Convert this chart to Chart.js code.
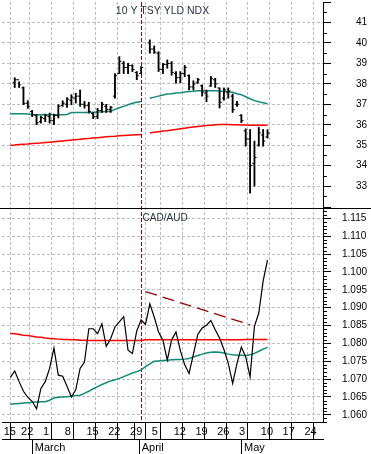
<!DOCTYPE html>
<html>
<head>
<meta charset="utf-8">
<title>10 Y TSY YLD NDX vs CAD/AUD</title>
<script src="https://cdn.jsdelivr.net/npm/chart.js@4.4.0/dist/chart.umd.min.js"></script>
<style>
  html, body { margin: 0; padding: 0; background: #fff; }
  canvas { display: block; }
</style>
</head>
<body>
<canvas id="chart" width="371" height="454"></canvas>
<script>
// trading-day index, 0 = Mon Feb 22 2010 (Apr 2 = Good Friday, no yield bar)
const tradeDays = [-2, -1, 0, 1, 2, 3, 4, 5, 6, 7, 8, 9, 10, 11, 12, 13, 14, 15, 16, 17, 18, 19,
  20, 21, 22, 23, 24, 25, 26, 27, 28, 29, 30, 31, 32, 33, 34, 35, 36, 37, 38, 39,
  40, 41, 42, 43, 44, 45, 46, 47, 48, 49, 50, 51, 52, 53, 54, 55, 56, 57];

// 10 Y TSY YLD NDX (OHLC)
const tsyHigh = [null, 38.30, 38.10, 37.85, 37.18, 36.70, 36.50, 36.42, 36.52, 36.57, 36.52, 36.98,
  37.17, 37.33, 37.47, 37.54, 37.70, 37.14, 37.10, 36.60, 36.80, 37.10, 37.00, 36.90,
  38.50, 39.33, 39.09, 39.00, 38.93, 38.60, 38.84, null, 40.15, 39.85, 39.57, 39.00,
  39.17, 39.09, 38.60, 38.60, 38.90, 38.44, 38.15, 38.27, 37.95, 37.70, 38.36, 38.27,
  37.80, 37.80, 37.80, 37.50, 37.14, 36.50, 35.80, 35.77, 35.20, 35.87, 35.77, 35.76];
const tsyLow = [null, 37.82, 37.82, 36.98, 36.80, 36.40, 36.00, 36.08, 36.15, 36.08, 36.00, 36.33,
  36.90, 36.85, 36.98, 37.06, 36.90, 36.81, 36.57, 36.30, 36.30, 36.60, 36.60, 36.60,
  37.30, 38.50, 38.50, 38.50, 38.60, 38.20, 38.50, null, 39.50, 39.49, 38.60, 38.50,
  38.76, 38.42, 38.03, 38.05, 38.35, 37.70, 37.70, 38.03, 37.40, 37.13, 37.87, 37.82,
  36.82, 37.20, 37.30, 36.60, 36.90, 36.10, 34.95, 32.66, 33.00, 34.95, 34.95, 35.35];
const tsyOpen = [null, 38.05, 38.20, 37.80, 37.05, 36.65, 36.45, 36.15, 36.30, 36.40, 36.20, 36.45,
  36.95, 37.00, 37.20, 37.30, 37.40, 37.00, 36.95, 36.55, 36.40, 36.70, 36.90, 36.75,
  37.40, 38.50, 39.00, 38.80, 38.90, 38.55, 38.50, null, 40.00, 39.70, 39.50, 38.70,
  38.95, 39.00, 38.50, 38.30, 38.50, 38.40, 37.85, 38.05, 37.90, 37.55, 37.90, 38.20,
  37.80, 37.30, 37.60, 37.40, 37.00, 36.45, 35.70, 35.30, 34.10, 35.00, 35.50, 35.40];
const tsyClose = [null, 38.20, 37.95, 37.05, 36.90, 36.50, 36.10, 36.35, 36.45, 36.20, 36.45, 36.90,
  37.05, 37.25, 37.35, 37.40, 37.00, 36.95, 36.65, 36.40, 36.70, 37.00, 36.75, 36.85,
  38.40, 39.10, 38.80, 38.90, 38.70, 38.40, 38.80, null, 39.70, 39.55, 38.70, 38.95,
  39.00, 38.55, 38.30, 38.50, 38.80, 37.85, 38.00, 38.20, 37.60, 37.40, 38.25, 38.00,
  37.10, 37.70, 37.65, 36.75, 37.00, 36.20, 35.30, 34.00, 34.40, 35.60, 35.20, 35.60];
const tsyAvgShort = [36.54, 36.54, 36.54, 36.54, 36.53, 36.49, 36.49, 36.49, 36.49, 36.49, 36.49, 36.49,
  36.49, 36.50, 36.60, 36.60, 36.60, 36.60, 36.60, 36.61, 36.62, 36.63, 36.65, 36.66,
  36.75, 36.83, 36.90, 36.98, 37.05, 37.10, 37.14, null, 37.30, 37.35, 37.40, 37.45,
  37.50, 37.52, 37.55, 37.57, 37.60, 37.63, 37.64, 37.66, 37.66, 37.66, 37.66, 37.66,
  37.65, 37.63, 37.61, 37.59, 37.52, 37.47, 37.37, 37.27, 37.18, 37.12, 37.07, 37.03];
const tsyAvgLong = [35.00, 35.01, 35.03, 35.05, 35.06, 35.08, 35.10, 35.11, 35.13, 35.15, 35.17, 35.19,
  35.21, 35.23, 35.25, 35.27, 35.29, 35.31, 35.33, 35.35, 35.37, 35.39, 35.41, 35.43,
  35.44, 35.46, 35.48, 35.49, 35.50, 35.51, 35.52, null, 35.60, 35.63, 35.66, 35.69,
  35.71, 35.74, 35.77, 35.80, 35.83, 35.86, 35.89, 35.92, 35.94, 35.96, 35.98, 36.00,
  36.01, 36.01, 36.01, 36.00, 36.00, 35.99, 35.99, 35.98, 35.98, 35.98, 35.97, 35.97];

// CAD/AUD close
const cadAud = [1.0705, 1.0723, 1.0693, 1.0666, 1.0649, 1.0638, 1.0617, 1.0674, 1.0693, 1.0730, 1.0787, 1.0711,
  1.0708, 1.0680, 1.0650, 1.0670, 1.0730, 1.0748, 1.0841, 1.0841, 1.0827, 1.0855, 1.0792, 1.0813,
  1.0846, 1.0860, 1.0875, 1.0781, 1.0772, 1.0835, 1.0866, 1.0853, 1.0911, 1.0874, 1.0832, 1.0809,
  1.0753, 1.0810, 1.0832, 1.0780, 1.0740, 1.0716, 1.0770, 1.0825, 1.0843, 1.0851, 1.0864, 1.0838,
  1.0815, 1.0783, 1.0744, 1.0688, 1.0744, 1.0790, 1.0762, 1.0706, 1.0848, 1.0885, 1.0975, 1.1033];
const cadAvgShort = [1.0630, 1.0631, 1.0632, 1.0633, 1.0634, 1.0635, 1.0636, 1.0637, 1.0637, 1.0641, 1.0647, 1.0649,
  1.0650, 1.0651, 1.0652, 1.0654, 1.0655, 1.0660, 1.0666, 1.0673, 1.0679, 1.0685, 1.0690, 1.0695,
  1.0698, 1.0702, 1.0707, 1.0712, 1.0717, 1.0721, 1.0726, 1.0735, 1.0743, 1.0750, 1.0751, 1.0752,
  1.0753, 1.0754, 1.0755, 1.0755, 1.0756, 1.0758, 1.0762, 1.0766, 1.0770, 1.0773, 1.0775, 1.0776,
  1.0775, 1.0773, 1.0770, 1.0768, 1.0767, 1.0767, 1.0766, 1.0768, 1.0772, 1.0778, 1.0784, 1.0789];
const cadAvgLong = [1.0828, 1.0827, 1.0825, 1.0823, 1.0822, 1.0820, 1.0818, 1.0817, 1.0815, 1.0814, 1.0813, 1.0812,
  1.0811, 1.0811, 1.0810, 1.0810, 1.0809, 1.0809, 1.0808, 1.0808, 1.0808, 1.0808, 1.0808, 1.0808,
  1.0808, 1.0808, 1.0808, 1.0808, 1.0808, 1.0808, 1.0808, 1.0810, 1.0810, 1.0810, 1.0810, 1.0810,
  1.0810, 1.0810, 1.0810, 1.0810, 1.0810, 1.0810, 1.0810, 1.0810, 1.0810, 1.0810, 1.0810, 1.0810,
  1.0810, 1.0810, 1.0810, 1.0810, 1.0810, 1.0810, 1.0811, 1.0811, 1.0811, 1.0811, 1.0811, 1.0811];

// falling trendline on CAD/AUD highs
const trendDays = [29, 53];
const trendVals = [1.0945, 1.0852];

// axes
const weekTicks = [-4, 0, 5, 10, 15, 20, 25, 30, 35, 40, 45, 50, 55, 60, 65];
const weekLabels = ['15', '22', '1', '8', '15', '22', '29', '5', '12', '19', '26', '3', '10', '17', '24'];
const monthTicks = [5, 28, 50];
const monthLabels = ['March', 'April', 'May'];
const markerDay = 28;
const tsyTicks = [33, 34, 35, 36, 37, 38, 39, 40, 41];
const cadTicks = [1.060, 1.065, 1.070, 1.075, 1.080, 1.085, 1.090, 1.095, 1.100, 1.105, 1.110, 1.115];

const FONT = "'Liberation Sans', Arial, Helvetica, sans-serif";
const GRID = '#bdbdbd';
const TEAL = '#128a7a';
const MARKER = '#990000';

function pts(ys, dx) {
    return tradeDays.map((d, i) => ({ x: d + (dx || 0), y: ys[i] }));
}

const bars = [];
tradeDays.forEach((d, i) => {
    if (tsyHigh[i] !== null) bars.push({ x: d, y: [tsyLow[i], tsyHigh[i]] });
});

function lineSet(ys, axis, color, width) {
    return {
        type: 'line', data: pts(ys), yAxisID: axis,
        borderColor: color, borderWidth: width, pointRadius: 0, tension: 0, spanGaps: false
    };
}

// open (left) / close (right) ticks of the yield bars
function tickSet(ys, dx) {
    return {
        type: 'line', data: pts(ys, dx), yAxisID: 'yT', showLine: false,
        pointStyle: 'line', pointRadius: 1, pointBorderWidth: 1,
        pointBorderColor: '#000', pointHoverRadius: 0
    };
}

function tickMinor(ctx, scale, step, every, majors) {
    const n0 = Math.ceil(scale.min / step - 1e-6);
    const n1 = Math.floor(scale.max / step + 1e-6);
    for (let n = n0; n <= n1; n++) {
        const v = n * step;
        if (majors.some(m => Math.abs(m - v) < step / 10)) continue;
        const len = n % every === 0 ? 8 : 4;
        const y = Math.round(scale.getPixelForValue(v)) + 0.5;
        ctx.beginPath();
        ctx.moveTo(scale.left, y);
        ctx.lineTo(scale.left + len, y);
        ctx.stroke();
    }
}

// dashed marker, panel separator, minor ticks and panel titles
const panelDecor = {
    id: 'panelDecor',
    beforeDatasetsDraw(chart) {
        const { ctx, chartArea, scales } = chart;
        const px = Math.round(scales.x.getPixelForValue(markerDay)) + 0.5;
        ctx.save();
        ctx.strokeStyle = MARKER;
        ctx.lineWidth = 1;
        ctx.setLineDash([4, 2]);
        ctx.beginPath();
        ctx.moveTo(px, chartArea.top);
        ctx.lineTo(px, chartArea.bottom);
        ctx.stroke();
        ctx.restore();
    },
    afterDraw(chart) {
        const { ctx, chartArea, scales } = chart;
        ctx.save();
        ctx.strokeStyle = '#000';
        ctx.lineWidth = 1;
        tickMinor(ctx, scales.yT, 0.5, 2, tsyTicks);
        tickMinor(ctx, scales.yB, 0.001, 5, cadTicks);
        const sy = Math.round(scales.yB.top) + 0.5;
        ctx.beginPath();
        ctx.moveTo(0, sy);
        ctx.lineTo(chart.width, sy);
        ctx.stroke();

        ctx.fillStyle = '#2b3340';
        ctx.font = '10.5px ' + FONT;
        ctx.textBaseline = 'alphabetic';
        ctx.textAlign = 'center';
        ctx.fillText('10 Y TSY YLD NDX', (chartArea.left + chartArea.right) / 2, 13.5);
        ctx.textAlign = 'left';
        ctx.font = '10px ' + FONT;
        ctx.fillText('CAD/AUD', scales.x.getPixelForValue(markerDay) + 1.5, 220.5);
        ctx.restore();
    }
};

const xBase = { type: 'linear', position: 'bottom', min: -1.62, max: 67.43 };

new Chart(document.getElementById('chart').getContext('2d'), {
    type: 'line',
    data: {
        datasets: [
            lineSet(cadAud, 'yB', '#000', 1.2),
            {
                type: 'bar', data: bars, yAxisID: 'yT',
                backgroundColor: '#000', borderWidth: 0, barThickness: 1.2
            },
            tickSet(tsyOpen, -0.25),
            tickSet(tsyClose, 0.25),
            {
                type: 'line', yAxisID: 'yB',
                data: trendDays.map((d, i) => ({ x: d, y: trendVals[i] })),
                borderColor: MARKER, borderWidth: 1.3, borderDash: [12, 6], pointRadius: 0
            },
            lineSet(tsyAvgShort, 'yT', TEAL, 1.5),
            lineSet(tsyAvgLong, 'yT', '#ff0000', 1.5),
            lineSet(cadAvgShort, 'yB', TEAL, 1.5),
            lineSet(cadAvgLong, 'yB', '#ff0000', 1.5)
        ]
    },
    options: {
        responsive: false,
        animation: false,
        plugins: { legend: { display: false }, tooltip: { enabled: false } },
        scales: {
            x: Object.assign({}, xBase, {
                weight: 0,
                afterBuildTicks: s => { s.ticks = weekTicks.concat([markerDay]).sort((a, b) => a - b).map(v => ({ value: v })); },
                afterFit: s => { s.height = 17; s.paddingLeft = 0; s.paddingRight = 0; },
                grid: {
                    color: c => (c.tick && c.tick.value === markerDay ? 'rgba(0,0,0,0)' : GRID),
                    tickColor: '#000', tickLength: 17
                },
                border: { color: '#000', dash: [3, 2] },
                ticks: {
                    autoSkip: false, maxRotation: 0, minRotation: 0, align: 'start', labelOffset: 2,
                    padding: -14, color: '#000', font: { family: FONT, size: 11 },
                    callback: v => { const k = weekTicks.indexOf(v); return k < 0 ? '' : weekLabels[k]; }
                }
            }),
            xm: Object.assign({}, xBase, {
                weight: 1,
                afterBuildTicks: s => { s.ticks = monthTicks.map(v => ({ value: v })); },
                afterFit: s => { s.height = 15; s.paddingLeft = 0; s.paddingRight = 0; },
                grid: { drawOnChartArea: false, tickColor: '#000', tickLength: 15 },
                border: { color: '#000' },
                ticks: {
                    autoSkip: false, maxRotation: 0, minRotation: 0, align: 'start', labelOffset: 2,
                    padding: -13, color: '#000', font: { family: FONT, size: 11 },
                    callback: v => monthLabels[monthTicks.indexOf(v)]
                }
            }),
            yT: {
                type: 'linear', position: 'right', stack: 'panels', stackWeight: 207,
                min: 31.93, max: 42.0,
                afterBuildTicks: s => { s.ticks = tsyTicks.map(v => ({ value: v })); },
                afterFit: s => { s.width = 48; s.paddingTop = 0; s.paddingBottom = 0; },
                grid: { color: GRID, tickColor: '#000', tickLength: 8 },
                border: { color: '#000', dash: [3, 2] },
                ticks: { autoSkip: false, color: '#000', font: { family: FONT, size: 10 }, crossAlign: 'near', padding: 25, callback: v => String(v) }
            },
            yB: {
                type: 'linear', position: 'right', stack: 'panels', stackWeight: 215,
                min: 1.058, max: 1.1179,
                afterBuildTicks: s => { s.ticks = cadTicks.map(v => ({ value: v })); },
                afterFit: s => { s.width = 48; s.paddingTop = 0; s.paddingBottom = 0; },
                grid: { color: GRID, tickColor: '#000', tickLength: 8 },
                border: { color: '#000', dash: [3, 2] },
                ticks: { autoSkip: false, color: '#000', font: { family: FONT, size: 10 }, crossAlign: 'near', padding: 11, callback: v => v.toFixed(3) }
            }
        }
    },
    plugins: [panelDecor]
});
</script>
</body>
</html>
